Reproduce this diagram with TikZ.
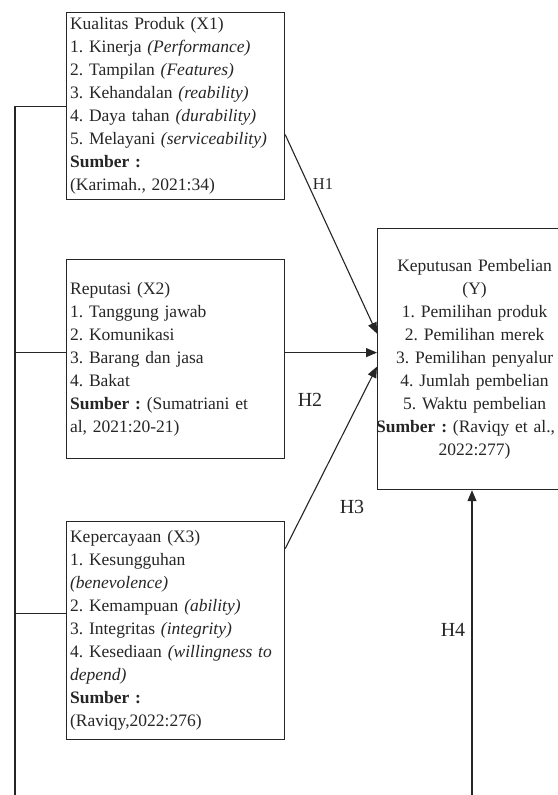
\documentclass[tikz,border=0pt]{standalone}
\usepackage{fontspec}
\setmainfont{Liberation Serif}
\usetikzlibrary{arrows.meta}
\frenchspacing
\tikzset{
  box/.style={draw=black!85, line width=1.2pt, rectangle, anchor=north west,
    inner xsep=3.5pt, inner ysep=2pt, text=black!85,
    font=\frenchspacing\fontsize{17.5}{23}\selectfont},
  lbox/.style={box, align=left, text width=211pt, minimum width=218pt},
  conn/.style={draw=black!85, line width=1.1pt},
  arr/.style={conn, -{Triangle[length=11pt,width=9pt]}},
  hlab/.style={text=black!85, inner sep=0pt}
}
\begin{document}
\begin{tikzpicture}[x=1pt,y=-1pt]
\useasboundingbox[fill=white] (0,0) rectangle (557,795);

\node[lbox, minimum height=187pt] (X1) at (66,12) {%
Kualitas Produk (X1)\\
1. Kinerja \textit{(Performance)}\\
2. Tampilan \textit{(Features)}\\
3. Kehandalan \textit{(reability)}\\
4. Daya tahan \textit{(durability)}\\
5. Melayani \textit{(serviceability)}\\
\textbf{Sumber :}\\
(Karimah., 2021:34)};

\node[lbox, minimum height=199pt] (X2) at (66,259) {%
Reputasi (X2)\\
1. Tanggung jawab\\
2. Komunikasi\\
3. Barang dan jasa\\
4. Bakat\\
\textbf{Sumber :} (Sumatriani et\\
al, 2021:20-21)};

\node[lbox, minimum height=218pt] (X3) at (66,521) {%
Kepercayaan (X3)\\
1. Kesungguhan\\
\textit{(benevolence)}\\
2. Kemampuan \textit{(ability)}\\
3. Integritas \textit{(integrity)}\\
4. Kesediaan \textit{(willingness to}\\
\textit{depend)}\\
\textbf{Sumber :}\\
(Raviqy,2022:276)};

\node[box, align=center, text width=187pt, minimum width=194pt, minimum height=261pt] (Y) at (377,228) {%
Keputusan Pembelian\\
(Y)\\
1. Pemilihan produk\\
2. Pemilihan merek\\
3. Pemilihan penyalur\\
4. Jumlah pembelian\\
5. Waktu pembelian\\
\hspace*{-18pt}\textbf{Sumber :} (Raviqy et al.,\\
2022:277)};

% arrows into Y
\draw[arr] ([yshift=-28.5pt]X1.east) -- ([yshift=25.5pt]Y.west);
\draw[arr] ([yshift=6.5pt]X2.east) -- ([yshift=6.5pt]Y.west);
\draw[arr] ([yshift=82pt]X3.east) -- ([yshift=-7.5pt]Y.west);

% left spine and H4
\coordinate (bl) at (15,797);
\coordinate (br) at (472,797);
\draw[arr] (X1.west) -| (bl) -- (br) -- (br |- Y.south);
\draw[conn] ([yshift=6.5pt]X2.west) -- ([yshift=6.5pt]X2.west -| bl);
\draw[conn] ([yshift=17pt]X3.west) -- ([yshift=17pt]X3.west -| bl);

% labels
\node[hlab, font=\fontsize{16.5}{18}\selectfont] (h1) at (323,184) {H1};
\node[hlab, font=\fontsize{20}{22}\selectfont] (h2) at (310,400) {H2};
\node[hlab, font=\fontsize{20}{22}\selectfont] (h3) at (352,507) {H3};
\node[hlab, font=\fontsize{20}{22}\selectfont] (h4) at (453,630) {H4};
\end{tikzpicture}
\end{document}
